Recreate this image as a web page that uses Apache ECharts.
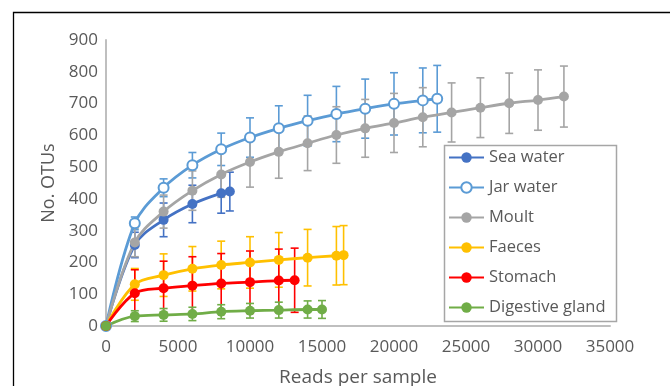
<!DOCTYPE html>
<html>
<head>
<meta charset="utf-8">
<script src="https://cdn.jsdelivr.net/npm/echarts@6/dist/echarts.min.js"></script>
<style>
html,body{margin:0;padding:0;background:#fff;}
#c{width:670px;height:386px;}
</style>
</head>
<body>
<div id="c"></div>
<script>
// Reads per sample (x) and mean OTUs (y) with error (±)
const seaX   = [0, 2000, 4000, 6000, 8000, 8600];
const seaY   = [0, 255, 334, 384, 418, 423];
const seaE   = [0, 40, 53, 59, 63, 61];

const jarX   = [0, 2000, 4000, 6000, 8000, 10000, 12000, 14000, 16000, 18000, 20000, 22000, 23000];
const jarY   = [0, 323, 435, 506, 556, 593, 622, 646, 667, 684, 699, 710, 715];
const jarE   = [0, 20, 28, 40, 51, 62, 71, 80, 87, 93, 98, 102, 105];

const moultX = [0, 2000, 4000, 6000, 8000, 10000, 12000, 14000, 16000, 18000, 20000, 22000, 24000, 26000, 28000, 30000, 31800];
const moultY = [0, 263, 360, 426, 477, 516, 548, 575, 601, 622, 639, 657, 672, 687, 701, 711, 722];
const moultE = [0, 45, 52, 62, 72, 79, 83, 86, 89, 91, 93, 93, 93, 94, 95, 95, 96];

const faecesX = [0, 2000, 4000, 6000, 8000, 10000, 12000, 14000, 16000, 16500];
const faecesY = [0, 131, 160, 180, 192, 200, 208, 215, 221, 223];
const faecesE = [0, 50, 67, 70, 75, 81, 86, 89, 92, 93];

const stomachX = [0, 2000, 4000, 6000, 8000, 10000, 12000, 13100];
const stomachY = [0, 103, 119, 127, 134, 138, 143, 144];
const stomachE = [0, 74, 85, 91, 94, 98, 99, 101];

const glandX = [0, 2000, 4000, 6000, 8000, 10000, 12000, 14000, 15000];
const glandY = [0, 31, 35, 38, 45, 48, 50, 52, 52];
const glandE = [0, 17, 20, 21, 22, 23, 25, 27, 28];

const seriesNames = ['Sea water', 'Jar water', 'Moult', 'Faeces', 'Stomach', 'Digestive gland'];
const seriesColors = ['#4472C4', '#5B9BD5', '#A5A5A5', '#FFC000', '#FF0000', '#70AD47'];

const xTicks = [0, 5000, 10000, 15000, 20000, 25000, 30000, 35000];
const yTicks = [0, 100, 200, 300, 400, 500, 600, 700, 800, 900];

const FONT = 'Open Sans';
const TXT = '#595959';

const sets = [
  [seaX, seaY, seaE],
  [jarX, jarY, jarE],
  [moultX, moultY, moultE],
  [faecesX, faecesY, faecesE],
  [stomachX, stomachY, stomachE],
  [glandX, glandY, glandE]
];

function pairs(xs, ys) { return xs.map((x, i) => [x, ys[i]]); }
function errData(xs, ys, es) {
  const out = [];
  xs.forEach((x, i) => { if (es[i] > 0) out.push([x, ys[i] - es[i], ys[i] + es[i]]); });
  return out;
}

const series = [];
sets.forEach((s, k) => {
  const color = seriesColors[k];
  series.push({
    name: seriesNames[k] + ' error',
    type: 'custom',
    z: 2,
    silent: true,
    data: errData(s[0], s[1], s[2]),
    encode: { x: 0, y: [1, 2] },
    renderItem: function (params, api) {
      const x = api.value(0);
      const lo = api.coord([x, api.value(1)]);
      const hi = api.coord([x, api.value(2)]);
      const hw = 4;
      const st = { stroke: color, lineWidth: 1.6 };
      return {
        type: 'group',
        children: [
          { type: 'line', shape: { x1: lo[0], y1: lo[1], x2: hi[0], y2: hi[1] }, style: st },
          { type: 'line', shape: { x1: lo[0] - hw, y1: lo[1], x2: lo[0] + hw, y2: lo[1] }, style: st },
          { type: 'line', shape: { x1: hi[0] - hw, y1: hi[1], x2: hi[0] + hw, y2: hi[1] }, style: st }
        ]
      };
    }
  });
});
sets.forEach((s, k) => {
  const color = seriesColors[k];
  const isJar = k === 1;
  series.push({
    name: seriesNames[k],
    type: 'line',
    z: 3,
    smooth: 0.35,
    data: pairs(s[0], s[1]),
    symbol: isJar ? 'emptyCircle' : 'circle',
    symbolSize: 10,
    showAllSymbol: true,
    color: color,
    lineStyle: { color: color, width: 2.8 },
    itemStyle: isJar ? { color: color, borderColor: color, borderWidth: 1.6 } : { color: color },
    emphasis: { disabled: true }
  });
});

const chart = echarts.init(document.getElementById('c'), null, { renderer: 'canvas' });
chart.setOption({
  animation: false,
  backgroundColor: '#ffffff',
  textStyle: { fontFamily: FONT },
  grid: { left: 106, right: 60, top: 40, bottom: 60, containLabel: false, outerBoundsMode: 'none' },
  xAxis: {
    type: 'value',
    min: 0, max: 35000, interval: 5000,
    name: 'Reads per sample',
    nameLocation: 'middle',
    nameGap: 42,
    nameTextStyle: { fontFamily: FONT, fontSize: 19, color: TXT },
    axisLine: { show: true, lineStyle: { color: '#BFBFBF', width: 2 } },
    axisTick: { show: false },
    splitLine: { show: false },
    axisLabel: {
      fontFamily: FONT, fontSize: 17, color: TXT, margin: 13,
      formatter: v => (xTicks.indexOf(v) >= 0 ? String(v) : '')
    }
  },
  yAxis: {
    type: 'value',
    min: 0, max: 900, interval: 100,
    name: 'No. OTUs',
    nameLocation: 'middle',
    nameGap: 43,
    nameRotate: 90,
    nameTextStyle: { fontFamily: FONT, fontSize: 18, color: TXT },
    axisLine: { show: true, lineStyle: { color: '#BFBFBF', width: 2 } },
    axisTick: { show: false },
    splitLine: { show: false },
    axisLabel: {
      fontFamily: FONT, fontSize: 17, color: TXT, margin: 8,
      formatter: v => (yTicks.indexOf(v) >= 0 ? String(v) : '')
    }
  },
  legend: {
    data: seriesNames,
    orient: 'vertical',
    left: 448,
    top: 149,
    padding: 0,
    itemWidth: 35,
    itemHeight: 13,
    itemGap: 13,
    textStyle: { fontFamily: FONT, fontSize: 16.5, color: TXT, lineHeight: 16 },
    selectedMode: false
  },
  graphic: [
    { type: 'rect', z: 100, silent: true, shape: { x: 13.5, y: 12.5, width: 720, height: 420 },
      style: { fill: 'none', stroke: '#000000', lineWidth: 1.3 } },
    { type: 'rect', z: 1, silent: true, shape: { x: 444.5, y: 145.5, width: 172, height: 176 },
      style: { fill: '#ffffff', stroke: '#A6A6A6', lineWidth: 1.5 } }
  ],
  series: series
});
</script>
</body>
</html>
